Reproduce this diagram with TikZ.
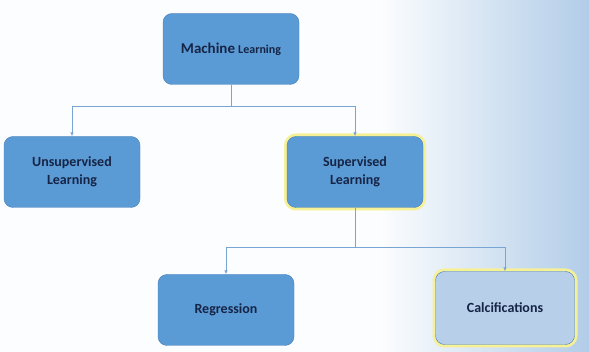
\documentclass[tikz,border=0pt]{standalone}
\usepackage{fontspec}
\setmainfont{Carlito}
\usetikzlibrary{arrows.meta}
\definecolor{boxblue}{RGB}{91,155,213}
\definecolor{boxedge}{RGB}{70,125,185}
\definecolor{paleblue}{RGB}{184,207,233}
\definecolor{linkblue}{RGB}{120,165,212}
\definecolor{textnavy}{RGB}{22,36,70}
\definecolor{glowyellow}{RGB}{246,240,150}
\definecolor{bgblue}{RGB}{178,205,232}
\tikzset{%
	block/.style    = {draw=boxedge, fill=boxblue, rounded corners=9pt,
		minimum width=136pt, minimum height=71pt, align=center,
		font=\bfseries\fontsize{14}{18}\selectfont, text=textnavy},
	glow/.style     = {preaction={draw=glowyellow, line width=6pt}},
	link/.style     = {draw=linkblue, line width=0.9pt, -{Latex[length=4pt,width=3.5pt]}}
}

\begin{document}
\begin{tikzpicture}[x=1pt,y=-1pt]
			\useasboundingbox (0,0) rectangle (589,352);
			\fill[white!96!bgblue] (0,0) rectangle (380,352);
			\shade[left color=white!96!bgblue, right color=bgblue] (380,0) rectangle (589,352);

			\node[block] (ml) at (231,49) {{\fontsize{15}{18}\selectfont Machine} {\fontsize{12}{18}\selectfont Learning}} ;
			\node[block] (unsup) at (72,172) {Unsupervised\\Learning} ;
			\node[block,glow] (sup) at (355,172) {Supervised\\Learning} ;
			\node[block] (reg) at (226,310) {Regression} ;
			\node[block,glow,fill=paleblue,minimum width=139pt,minimum height=73pt] (calc) at (505,308) {Calcifications} ;

			\draw[link] (ml.south) -- ++(0,22) -| (unsup.north);
			\draw[link] (ml.south) -- ++(0,22) -| (sup.north);
			\draw[link] (sup.south) -- ++(0,40) -| (reg.north);
			\draw[link] (sup.south) -- ++(0,40) -| (calc.north);
		\end{tikzpicture}
\end{document}
